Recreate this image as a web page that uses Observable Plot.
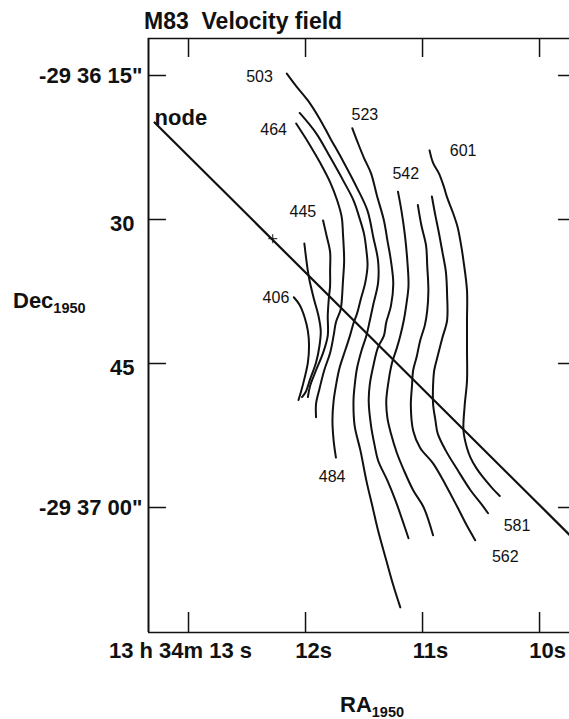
<!DOCTYPE html>
<html><head><meta charset="utf-8">
<script src="https://cdn.jsdelivr.net/npm/d3@7"></script>
<script src="https://cdn.jsdelivr.net/npm/@observablehq/plot@0.6"></script>
<style>
html,body{margin:0;padding:0;background:#fff;overflow:hidden}
#wrap{position:relative;width:569px;height:719px}
#wrap svg{position:absolute;left:0;top:0}
.lbl{position:absolute;font-family:"Liberation Sans",Arial,sans-serif;font-weight:bold;color:#111;white-space:pre;line-height:1;font-size:22px;z-index:2}
.lbl sub{font-size:14.5px;vertical-align:-5px;line-height:0}
g[aria-label="contour labels"] text{letter-spacing:3.5px}
</style></head><body>
<div id="wrap">
<div class="lbl" style="left:144px;top:10px;font-size:23px">M83  Velocity field</div>
<div class="lbl" style="left:13px;top:290px">Dec<sub>1950</sub></div>
<div class="lbl" style="left:340px;top:694px">RA<sub>1950</sub></div>
</div>
<script>
// Axis ticks (RA in seconds of 13h34m, Dec in arcsec past -29°36')
const raTicks = [13, 12, 11, 10];
const raTickLabels = ["13 h 34m 13 s", "12s", "11s", "10s"];
const decTicks = [15, 30, 45, 60];
const decTickLabels = ['-29 36 15"', "30", "45", '-29 37 00"'];
const xDomain = [13.342, 9.744];
const yDomain = [11.146, 73.02];

// Isovelocity contours (km/s), points as [RA s, Dec arcsec]
const levels = [406, 425, 445, 464, 484, 503, 523, 542, 562, 581, 601];
const c406 = [[12.10,38.1],[12.05,38.9],[12.01,40.1],[11.98,41.6],[11.97,43.1],[11.98,44.9],[12.01,46.6],[12.04,48.0],[12.06,48.8]];
const c425 = [[12.01,32.5],[11.99,34.5],[11.97,36.1],[11.93,38.2],[11.89,40.0],[11.87,41.6],[11.88,43.1],[11.91,44.9],[11.96,46.6],[12.00,48.0],[12.03,48.5]];
const c445 = [[11.85,30.1],[11.82,31.7],[11.79,33.4],[11.79,35.3],[11.79,36.9],[11.80,38.1],[11.81,40.0],[11.81,42.1],[11.85,43.9],[11.91,45.7],[11.96,47.3],[11.98,48.5]];
const c464 = [[12.08,20.0],[11.97,22.1],[11.87,24.2],[11.79,26.1],[11.73,28.0],[11.69,29.8],[11.68,31.5],[11.67,34.3],[11.68,36.4],[11.69,38.4],[11.70,39.4],[11.74,40.7],[11.76,42.1],[11.79,43.9],[11.84,45.7],[11.88,47.6],[11.91,49.2],[11.91,50.6]];
const c484 = [[12.05,18.9],[11.91,21.0],[11.79,23.5],[11.68,25.9],[11.59,28.0],[11.54,29.8],[11.50,31.5],[11.48,33.2],[11.47,34.8],[11.49,36.6],[11.53,38.4],[11.56,39.8],[11.59,40.8],[11.62,42.1],[11.66,43.6],[11.71,45.5],[11.74,47.3],[11.76,48.9],[11.77,50.9],[11.76,53.0],[11.74,54.8]];
const c503 = [[12.16,14.8],[12.08,16.1],[11.98,17.6],[11.88,19.5],[11.79,21.5],[11.68,23.9],[11.56,26.7],[11.47,29.1],[11.42,31.9],[11.38,34.3],[11.38,36.6],[11.42,38.8],[11.45,40.5],[11.48,42.1],[11.52,43.6],[11.56,45.5],[11.58,47.3],[11.59,48.9],[11.58,51.5],[11.53,54.1],[11.48,57.2],[11.43,59.8],[11.38,62.4],[11.31,65.5],[11.25,68.1],[11.19,70.4]];
const c523 = [[11.60,20.5],[11.55,22.1],[11.50,23.6],[11.44,25.2],[11.39,27.5],[11.33,30.1],[11.30,32.2],[11.27,34.3],[11.25,36.7],[11.27,39.0],[11.31,40.7],[11.33,42.1],[11.38,43.3],[11.42,45.2],[11.45,47.1],[11.46,48.9],[11.44,51.5],[11.41,53.5],[11.38,55.1],[11.30,57.2],[11.23,59.3],[11.17,61.4],[11.12,63.2]];
const c542 = [[11.21,27.1],[11.18,29.1],[11.15,31.7],[11.13,34.3],[11.12,36.9],[11.14,39.0],[11.16,40.5],[11.19,42.1],[11.22,43.4],[11.26,44.9],[11.29,46.8],[11.31,48.9],[11.30,50.7],[11.27,52.3],[11.22,54.3],[11.16,56.1],[11.08,58.2],[10.99,60.0],[10.91,62.9]];
const c562 = [[11.04,28.5],[11.01,30.6],[10.97,32.7],[10.96,34.8],[10.95,37.4],[10.96,39.5],[10.98,41.0],[11.02,42.6],[11.05,44.3],[11.08,45.7],[11.09,47.3],[11.10,49.4],[11.08,52.0],[11.02,53.8],[10.91,55.4],[10.80,57.7],[10.70,60.0],[10.62,61.9],[10.55,63.4]];
const c581 = [[10.92,27.6],[10.89,29.6],[10.86,31.4],[10.83,33.4],[10.80,35.5],[10.79,37.9],[10.79,40.5],[10.83,42.3],[10.87,44.2],[10.90,45.7],[10.91,47.3],[10.91,49.2],[10.89,50.9],[10.87,52.3],[10.80,54.1],[10.70,56.1],[10.59,58.2],[10.50,59.6],[10.44,60.6]];
const c601 = [[10.94,22.8],[10.91,24.1],[10.86,25.2],[10.82,26.5],[10.79,27.7],[10.74,29.3],[10.70,30.8],[10.67,32.7],[10.65,34.3],[10.62,37.4],[10.62,40.5],[10.62,43.6],[10.62,46.8],[10.64,49.4],[10.65,52.0],[10.62,53.8],[10.59,54.8],[10.54,55.9],[10.48,56.9],[10.41,57.9],[10.34,58.8]];
const contours = [c406, c425, c445, c464, c484, c503, c523, c542, c562, c581, c601];

// Contour labels
const labelText = ["503", "464", "523", "445", "542", "601", "406", "484", "581", "562"];
const labelRA = [12.41, 12.29, 11.51, 12.04, 11.16, 10.67, 12.27, 11.79, 10.21, 10.31];
const labelDec = [15.1, 20.7, 19.1, 29.2, 25.2, 22.9, 38.2, 56.8, 61.9, 65.1];

// Line of nodes and nucleus
const nodeLine = [[13.29, 19.9], [9.69, 63.5]];
const nodeLabel = ["node"];
const nodeLabelRA = [13.29];
const nodeLabelDec = [19.4];
const nucleus = [[12.28, 32.0]];

const rows = levels.flatMap((v, i) => contours[i].map(([ra, dec]) => ({v, ra, dec})));
const raFmt = new Map(raTicks.map((t, i) => [t, raTickLabels[i]]));
const decFmt = new Map(decTicks.map((t, i) => [t, decTickLabels[i]]));
const W = 569, H = 719, mL = 148, mT = 38, mB = 87;
const pw = W - mL, ph = H - mT - mB;
const ink = "#111";
const tickFont = {fontSize: 22, fontWeight: "bold"};

const plot = Plot.plot({
  width: W, height: H,
  marginLeft: mL, marginRight: 0, marginTop: mT, marginBottom: mB,
  style: {fontFamily: "'Liberation Sans', Arial, sans-serif", color: ink, background: "transparent", overflow: "visible"},
  x: {domain: xDomain},
  y: {domain: yDomain, reverse: true},
  marks: [
    Plot.ruleX([xDomain[0]], {stroke: ink, strokeWidth: 2}),
    Plot.ruleY([yDomain[0]], {stroke: ink, strokeWidth: 1.5}),
    Plot.ruleY([yDomain[1]], {stroke: ink, strokeWidth: 1.5}),
    Plot.tickY(decTicks, {y: d => d, insetRight: pw - 18, stroke: ink, strokeWidth: 1.5}),
    Plot.tickY(decTicks, {y: d => d, insetLeft: pw - 11, stroke: ink, strokeWidth: 1.5}),
    Plot.tickX(raTicks, {x: d => d, insetBottom: ph - 19, stroke: ink, strokeWidth: 1.5}),
    Plot.tickX(raTicks, {x: d => d, insetTop: ph - 20, stroke: ink, strokeWidth: 1.5}),
    Plot.axisY([15, 60], {anchor: "left", tickSize: 0, tickPadding: 6, tickFormat: d => decFmt.get(d), label: null, ...tickFont}),
    Plot.axisY([30, 45], {anchor: "left", tickSize: 0, tickPadding: 14, dy: 4, tickFormat: d => decFmt.get(d), label: null, ...tickFont}),
    Plot.axisX([13], {anchor: "bottom", tickSize: 0, tickPadding: 10, dx: -8, tickFormat: d => raFmt.get(d), label: null, ...tickFont}),
    Plot.axisX([12, 11, 10], {anchor: "bottom", tickSize: 0, tickPadding: 10, dx: 8, tickFormat: d => raFmt.get(d), label: null, ...tickFont}),
    Plot.line(rows, {x: "ra", y: "dec", z: "v", curve: "catmull-rom", stroke: ink, strokeWidth: 2}),
    Plot.line(nodeLine, {x: d => d[0], y: d => d[1], stroke: ink, strokeWidth: 2.2, clip: true}),
    Plot.dot(nucleus, {x: d => d[0], y: d => d[1], symbol: "plus", r: 3, stroke: ink, strokeWidth: 1}),
    Plot.text(nodeLabel, {x: (d, i) => nodeLabelRA[i], y: (d, i) => nodeLabelDec[i], text: d => d, textAnchor: "start", fontSize: 22, fontWeight: "bold", fill: ink}),
    Plot.text(labelText, {x: (d, i) => labelRA[i], y: (d, i) => labelDec[i], text: d => d, dx: 2, fontSize: 16, fill: ink, ariaLabel: "contour labels"})
  ]
});
document.getElementById("wrap").appendChild(plot);
</script>
</body></html>
